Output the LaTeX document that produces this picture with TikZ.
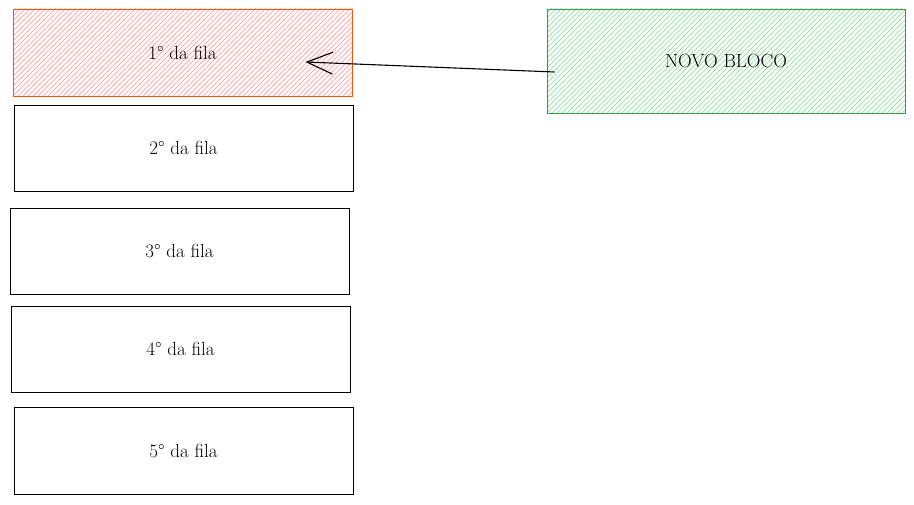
\documentclass[tikz,border=0pt]{standalone}
\usepackage{fontspec}
\usetikzlibrary{arrows.meta,calc}
\definecolor{redline}{HTML}{E8590C}
\definecolor{redhatch}{HTML}{FFADAD}
\definecolor{greenline}{HTML}{2F9E44}
\definecolor{greenhatch}{HTML}{9EE3AA}
\tikzset{
  fila/.style={draw=black, line width=0.9pt, minimum width=339pt, minimum height=86pt, inner sep=0pt, text=black, font=\fontsize{19}{22}\selectfont},
  hatched/.style={path picture={
    \foreach \i in {-160,-155,...,380}
      \draw[#1, line width=0.9pt] ($(path picture bounding box.south west)+(\i,0)$) -- ++(150,-150);
  }},
}
\begin{document}
\begin{tikzpicture}[x=1pt,y=-1pt]
\useasboundingbox (0,0) rectangle (914,505);
\node[fila, draw=redline, minimum height=87pt, hatched=redhatch] (b1) at (182.5,52.5) {1° da fila};
\node[fila] (b2) at (183.5,148) {2° da fila};
\node[fila] (b3) at (179.5,251) {3° da fila};
\node[fila] (b4) at (180.5,349) {4° da fila};
\node[fila, minimum height=87pt] (b5) at (183.5,450.5) {5° da fila};
\node[fila, draw=greenline, minimum width=358pt, minimum height=104pt, hatched=greenhatch] (nb) at (726,61) {NOVO BLOCO};
\coordinate (as) at ($(nb.west)+(8,11)$);
\coordinate (ae) at ($(b1.east)+(-47,9.5)$);
\draw[line width=1.1pt, -{Straight Barb[length=26pt,width=22pt,line width=1.1pt]}] (as) -- (ae);
\end{tikzpicture}
\end{document}
